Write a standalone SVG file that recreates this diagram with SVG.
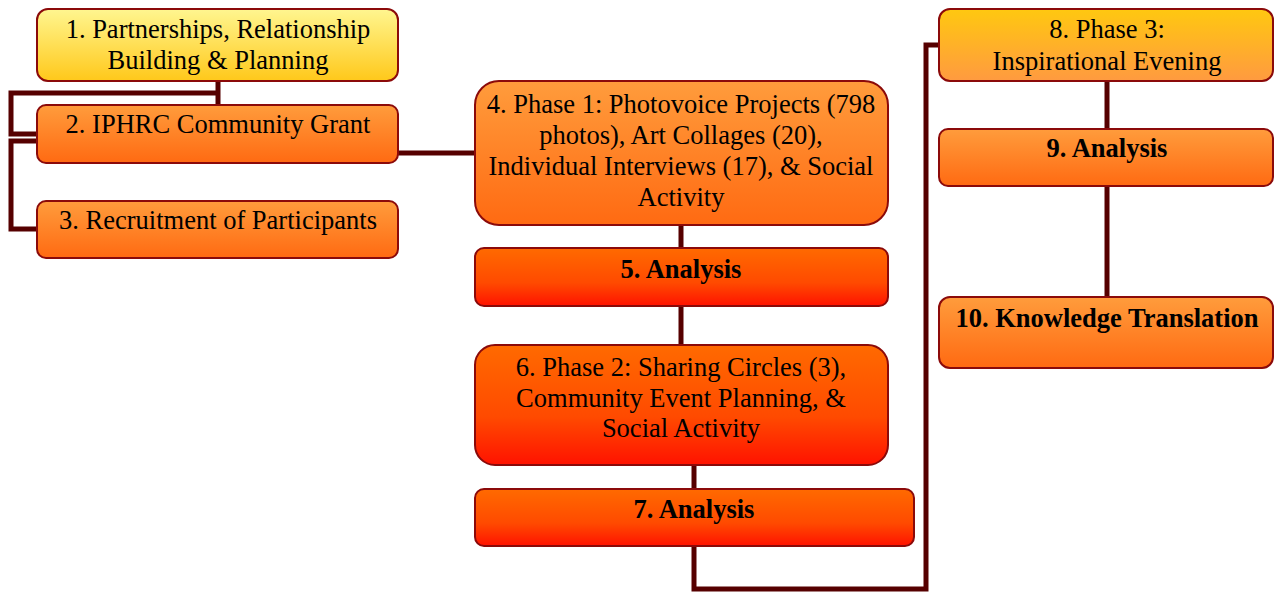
<svg xmlns="http://www.w3.org/2000/svg" width="1274" height="592" viewBox="0 0 1274 592">
  <defs>
    <linearGradient id="gYellow" x1="0" y1="0" x2="0" y2="1">
      <stop offset="0" stop-color="#FFF690"/>
      <stop offset="1" stop-color="#FFC81A"/>
    </linearGradient>
    <linearGradient id="gAmber" x1="0" y1="0" x2="0" y2="1">
      <stop offset="0" stop-color="#FFC810"/>
      <stop offset="1" stop-color="#FF9A40"/>
    </linearGradient>
    <linearGradient id="gOrange" x1="0" y1="0" x2="0" y2="1">
      <stop offset="0" stop-color="#FF9C3C"/>
      <stop offset="1" stop-color="#FF6A12"/>
    </linearGradient>
    <linearGradient id="gRed" x1="0" y1="0" x2="0" y2="1">
      <stop offset="0" stop-color="#FF6A00"/>
      <stop offset="0.6" stop-color="#FF4A00"/>
      <stop offset="1" stop-color="#FF1200"/>
    </linearGradient>
  </defs>
  <style>
    .box { stroke: #8B0A0A; stroke-width: 2; }
    .t { font-family: "Liberation Serif", "Times New Roman", "DejaVu Serif", serif; font-size: 26.5px; fill: #000; text-anchor: middle; }
    .b { font-weight: bold; }
    .link { fill: none; stroke: #560000; stroke-width: 5; stroke-linejoin: miter; }
  </style>

  <g id="connectors">
    <path class="link" d="M218 81 V105"/>
    <path class="link" d="M218 93 H11 V134 H37"/>
    <path class="link" d="M37 141 H11 V229 H37"/>
    <path class="link" d="M398 153 H475"/>
    <path class="link" d="M681 225 V248"/>
    <path class="link" d="M681 306 V345"/>
    <path class="link" d="M694 465 V489"/>
    <path class="link" d="M694 546 V589 H926 V45 H939"/>
    <path class="link" d="M1107 81 V129"/>
    <path class="link" d="M1107 186 V297"/>
  </g>

  <g id="node1">
    <rect class="box" x="37" y="9" width="361" height="72" rx="11" fill="url(#gYellow)"/>
    <text class="t" x="218" y="38">1. Partnerships, Relationship</text>
    <text class="t" x="218" y="69">Building &amp; Planning</text>
  </g>
  <g id="node2">
    <rect class="box" x="37" y="105" width="361" height="58" rx="9" fill="url(#gOrange)"/>
    <text class="t" x="218" y="133">2. IPHRC Community Grant</text>
  </g>
  <g id="node3">
    <rect class="box" x="37" y="201" width="361" height="57" rx="9" fill="url(#gOrange)"/>
    <text class="t" x="218" y="229">3. Recruitment of Participants</text>
  </g>
  <g id="node4">
    <rect class="box" x="475" y="81" width="413" height="144" rx="24" fill="url(#gOrange)"/>
    <text class="t" x="681" y="113">4. Phase 1: Photovoice Projects (798</text>
    <text class="t" x="681" y="144">photos), Art Collages (20),</text>
    <text class="t" x="681" y="175">Individual Interviews (17), &amp; Social</text>
    <text class="t" x="681" y="206">Activity</text>
  </g>
  <g id="node5">
    <rect class="box" x="475" y="248" width="413" height="58" rx="9" fill="url(#gRed)"/>
    <text class="t b" x="681" y="278">5. Analysis</text>
  </g>
  <g id="node6">
    <rect class="box" x="475" y="345" width="413" height="120" rx="20" fill="url(#gRed)"/>
    <text class="t" x="681" y="376">6. Phase 2: Sharing Circles (3),</text>
    <text class="t" x="681" y="407">Community Event Planning, &amp;</text>
    <text class="t" x="681" y="437">Social Activity</text>
  </g>
  <g id="node7">
    <rect class="box" x="475" y="489" width="439" height="57" rx="9" fill="url(#gRed)"/>
    <text class="t b" x="694" y="518">7. Analysis</text>
  </g>
  <g id="node8">
    <rect class="box" x="939" y="9" width="334" height="72" rx="11" fill="url(#gAmber)"/>
    <text class="t" x="1107" y="38">8. Phase 3:</text>
    <text class="t" x="1107" y="70">Inspirational Evening</text>
  </g>
  <g id="node9">
    <rect class="box" x="939" y="129" width="334" height="57" rx="9" fill="url(#gOrange)"/>
    <text class="t b" x="1107" y="157">9. Analysis</text>
  </g>
  <g id="node10">
    <rect class="box" x="939" y="297" width="334" height="71" rx="11" fill="url(#gOrange)"/>
    <text class="t b" x="1107" y="327">10. Knowledge Translation</text>
  </g>
</svg>
